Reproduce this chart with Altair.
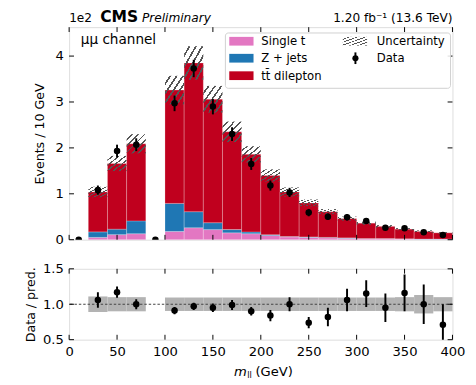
import altair as alt
import pandas as pd

# ---------------- data (values in units of 1e2 events) ----------------
bin_lo = [0, 20, 40, 60, 80, 100, 120, 140, 160, 180, 200, 220, 240, 260, 280, 300, 320, 340, 360, 380]
bin_width = 20
single_t = [0, 0.05, 0.11, 0.13, 0, 0.18, 0.26, 0.22, 0.15, 0.13, 0.09, 0.06, 0.05, 0.04, 0.03, 0.02, 0.02, 0.015, 0.01, 0.01]
z_jets = [0, 0.12, 0.12, 0.28, 0, 0.61, 0.35, 0.15, 0.07, 0.04, 0.02, 0.01, 0.01, 0.01, 0.01, 0.005, 0.005, 0.005, 0.005, 0.005]
ttbar = [0, 0.87, 1.43, 1.68, 0, 2.47, 3.24, 2.69, 2.13, 1.69, 1.29, 0.97, 0.74, 0.56, 0.42, 0.335, 0.265, 0.21, 0.165, 0.135]
unc_rel = [0, 0.11, 0.10, 0.10, 0, 0.095, 0.095, 0.095, 0.095, 0.095, 0.095, 0.095, 0.095, 0.095, 0.095, 0.095, 0.095, 0.10, 0.13, 0.10]
data_y = [0, 1.08, 1.93, 2.07, 0, 2.97, 3.73, 2.90, 2.30, 1.65, 1.18, 1.03, 0.59, 0.50, 0.49, 0.41, 0.26, 0.25, 0.16, 0.10]
data_err = [0, 0.10, 0.14, 0.14, 0, 0.17, 0.19, 0.17, 0.15, 0.13, 0.11, 0.10, 0.08, 0.07, 0.07, 0.06, 0.05, 0.05, 0.04, 0.03]
ratio_y = [None, 1.06, 1.17, 1.00, None, 0.91, 0.97, 0.95, 0.99, 0.90, 0.84, 1.00, 0.74, 0.82, 1.06, 1.15, 0.95, 1.16, 1.00, 0.71]
ratio_err = [None, 0.11, 0.08, 0.07, None, 0.05, 0.05, 0.06, 0.07, 0.06, 0.08, 0.10, 0.08, 0.13, 0.16, 0.19, 0.20, 0.26, 0.28, 0.29]

processes = ["Single t", "Z + jets", "tt\u0304 dilepton"]
proc_colors = ["#e377c2", "#1f77b4", "#c0001e"]
x_ticks = [0, 50, 100, 150, 200, 250, 300, 350, 400]
y_ticks_main = [0, 1, 2, 3, 4]
y_ticks_ratio = [0.5, 1.0, 1.5]

# ---------------- tables built from the arrays ----------------
rows = []
for i, lo in enumerate(bin_lo):
    base = 0.0
    for p, vals in zip(processes, [single_t, z_jets, ttbar]):
        v = vals[i]
        if v > 0:
            rows.append({"lo": lo, "hi": lo + bin_width, "y0": base, "y1": base + v, "process": p})
        base += v
stack_df = pd.DataFrame(rows)

tot = [a + b + c for a, b, c in zip(single_t, z_jets, ttbar)]
unc_df = pd.DataFrame([
    {"lo": lo, "hi": lo + bin_width, "ylo": t * (1 - u), "yhi": t * (1 + u), "rlo": 1 - u, "rhi": 1 + u}
    for lo, t, u in zip(bin_lo, tot, unc_rel) if t > 0
])
data_df = pd.DataFrame({
    "c": [lo + bin_width / 2 for lo in bin_lo],
    "y": data_y,
    "ylo": [y - e for y, e in zip(data_y, data_err)],
    "yhi": [y + e for y, e in zip(data_y, data_err)],
    "err": data_err,
})
ratio_df = pd.DataFrame([
    {"c": lo + bin_width / 2, "r": r, "rlo": r - e, "rhi": r + e}
    for lo, r, e in zip(bin_lo, ratio_y, ratio_err) if r is not None
])
xt_df = pd.DataFrame({"t": x_ticks})
yt_df = pd.DataFrame({"t": y_ticks_main})
rt_df = pd.DataFrame({"t": y_ticks_ratio})
one = pd.DataFrame({"a": [0]})
ref_df = pd.DataFrame({"r": [1.0]})

# ---------------- styling ----------------
W, H, HR = 395, 219, 73
FONT = "DejaVu Sans"
xs = alt.Scale(domain=[0, 400], nice=False, zero=False)
ys = alt.Scale(domain=[0, 4.63], nice=False, zero=False)
rs = alt.Scale(domain=[0.5, 1.5], nice=False, zero=False)
yax = alt.Axis(values=y_ticks_main, ticks=False, domain=False, grid=False, labelPadding=6,
               labelFontSize=13.5, labelColor="black", title="Events / 10 GeV",
               titleFontSize=13, titleFontWeight="normal", titleColor="black", titlePadding=9)
rax = alt.Axis(values=y_ticks_ratio, format=".1f", ticks=False, domain=False, grid=False, labelPadding=6,
               labelFontSize=13.5, labelColor="black", title="Data / pred.",
               titleFontSize=13, titleFontWeight="normal", titleColor="black", titlePadding=5)
xax_r = alt.Axis(values=x_ticks, ticks=False, domain=False, grid=False, labelPadding=5,
                 labelFontSize=13.5, labelColor="black", labelFlush=False, title=None)

nstripe = 6
stops = []
for i in range(nstripe):
    a = i / nstripe
    b = (i + 0.7) / nstripe
    c = (i + 1) / nstripe
    stops += [
        alt.GradientStop(color="rgba(0,0,0,0)", offset=a),
        alt.GradientStop(color="rgba(0,0,0,0)", offset=b),
        alt.GradientStop(color="#555555", offset=b),
        alt.GradientStop(color="#555555", offset=c),
    ]
hatch = alt.LinearGradient(gradient="linear", stops=stops, x1=0, y1=0, x2=1, y2=1)


def ticks(xscale, yscale, ydf, h, xaxis, yaxis):
    tx = alt.X("t:Q", scale=xscale, axis=xaxis)
    ty = alt.Y("t:Q", scale=yscale, axis=yaxis)
    return [
        alt.Chart(xt_df).mark_rule(color="black", strokeWidth=1).encode(x=tx, y=alt.value(h), y2=alt.value(h - 5)),
        alt.Chart(xt_df).mark_rule(color="black", strokeWidth=1).encode(x=tx, y=alt.value(0), y2=alt.value(5)),
        alt.Chart(ydf).mark_rule(color="black", strokeWidth=1).encode(y=ty, x=alt.value(0), x2=alt.value(5)),
        alt.Chart(ydf).mark_rule(color="black", strokeWidth=1).encode(y=ty, x=alt.value(W), x2=alt.value(W - 5)),
    ]


def txt(s, x, y, size=12.5, weight="normal", style="normal", align="left", baseline="alphabetic"):
    return alt.Chart(one).mark_text(text=s, font=FONT, fontSize=size, fontWeight=weight, fontStyle=style,
                                    align=align, baseline=baseline, color="black").encode(
        x=alt.value(x), y=alt.value(y))


# ---------------- main panel ----------------
bars = alt.Chart(stack_df).mark_rect(stroke="white", strokeWidth=0.4, strokeOpacity=0.6).encode(
    x=alt.X("lo:Q", scale=xs, axis=None), x2="hi:Q",
    y=alt.Y("y0:Q", scale=ys, axis=yax), y2="y1:Q",
    color=alt.Color("process:N", scale=alt.Scale(domain=processes, range=proc_colors), legend=None),
)
unc = alt.Chart(unc_df).mark_rect(fill=hatch, strokeWidth=0).encode(
    x=alt.X("lo:Q", scale=xs, axis=None), x2="hi:Q",
    y=alt.Y("ylo:Q", scale=ys, axis=yax), y2="yhi:Q",
)
derr = alt.Chart(data_df).transform_filter("datum.err > 0").mark_rule(color="black", strokeWidth=2).encode(
    x=alt.X("c:Q", scale=xs, axis=None),
    y=alt.Y("ylo:Q", scale=ys, axis=yax), y2="yhi:Q",
)
dpts = alt.Chart(data_df).mark_circle(color="black", size=45, opacity=1, clip=True).encode(
    x=alt.X("c:Q", scale=xs, axis=None),
    y=alt.Y("y:Q", scale=ys, axis=yax),
)

# legend (custom, two columns)
leg = [
    alt.Chart(one).mark_rect(fill="white", fillOpacity=0.85, stroke="#d0d0d0", strokeWidth=1, cornerRadius=3).encode(
        x=alt.value(161), x2=alt.value(393), y=alt.value(6), y2=alt.value(63)),
]
row_y = [14.5, 32, 50]
for (p, col), ry in zip(zip(processes, proc_colors), row_y):
    leg.append(alt.Chart(one).mark_rect(fill=col).encode(
        x=alt.value(165), x2=alt.value(190), y=alt.value(ry - 4.5), y2=alt.value(ry + 4.5)))
    leg.append(txt(p, 198, ry, size=12, baseline="middle"))
leg.append(alt.Chart(one).mark_rect(fill=hatch).encode(
    x=alt.value(282), x2=alt.value(307), y=alt.value(row_y[0] - 4.5), y2=alt.value(row_y[0] + 4.5)))
leg.append(txt("Uncertainty", 317, row_y[0], size=12, baseline="middle"))
leg.append(alt.Chart(one).mark_rule(color="black", strokeWidth=2).encode(
    x=alt.value(295), y=alt.value(row_y[1] - 6), y2=alt.value(row_y[1] + 6)))
leg.append(alt.Chart(one).mark_circle(color="black", size=40, opacity=1).encode(
    x=alt.value(295), y=alt.value(row_y[1])))
leg.append(txt("Data", 317, row_y[1], size=12, baseline="middle"))

labels_main = [
    txt("1e2", 0, -5, size=12.5),
    txt("CMS", 32, -5, size=16, weight="bold"),
    txt("Preliminary", 75, -5, size=12.5, style="italic"),
    txt("1.20 fb\u207b\u00b9 (13.6 TeV)", W, -5, size=12.5, align="right"),
    txt("\u03bc\u03bc channel", 12, 17, size=14),
]

main = alt.layer(bars, unc, derr, dpts, *ticks(xs, ys, yt_df, H, None, yax), *leg, *labels_main).properties(width=W, height=H)

# ---------------- ratio panel ----------------
band = alt.Chart(unc_df).mark_rect(color="#b3b3b3", opacity=1).encode(
    x=alt.X("lo:Q", scale=xs, axis=xax_r), x2="hi:Q",
    y=alt.Y("rlo:Q", scale=rs, axis=rax), y2="rhi:Q",
)
refl = alt.Chart(ref_df).mark_rule(color="#444444", strokeWidth=1.2, strokeDash=[2.5, 2]).encode(
    y=alt.Y("r:Q", scale=rs, axis=rax),
)
rerr = alt.Chart(ratio_df).mark_rule(color="black", strokeWidth=2, clip=True).encode(
    x=alt.X("c:Q", scale=xs, axis=xax_r),
    y=alt.Y("rlo:Q", scale=rs, axis=rax), y2="rhi:Q",
)
rpts = alt.Chart(ratio_df).mark_circle(color="black", size=45, opacity=1, clip=True).encode(
    x=alt.X("c:Q", scale=xs, axis=xax_r),
    y=alt.Y("r:Q", scale=rs, axis=rax),
)
xtitle = [
    txt("m", 170, HR + 37, size=13.5, style="italic"),
    txt("ll", 183.5, HR + 40, size=8.5),
    txt("(GeV)", 192, HR + 37, size=13.5),
]
ratio = alt.layer(band, refl, rerr, rpts, *ticks(xs, rs, rt_df, HR, xax_r, rax), *xtitle).properties(width=W, height=HR)

chart = alt.vconcat(main, ratio, spacing=15).properties(
    padding={"left": 17, "top": -5, "right": 2, "bottom": 0}
).configure_view(stroke="black", strokeWidth=1).configure(font=FONT)

chart.save("out.html", embed_options={"renderer": "svg", "actions": False})
